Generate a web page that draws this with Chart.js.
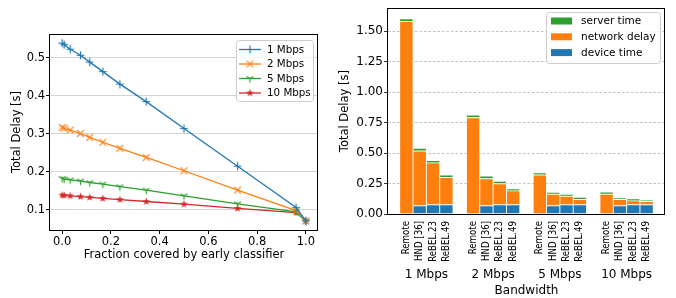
<!DOCTYPE html>
<html><head><meta charset="utf-8">
<script src="https://cdn.jsdelivr.net/npm/chart.js@4.4.1/dist/chart.umd.min.js"></script>
<style>
html,body{margin:0;padding:0;background:#fff;width:676px;height:298px;overflow:hidden}
#l{position:absolute;left:0;top:0}
#r{position:absolute;left:330px;top:0}
</style></head><body>
<canvas id="l" width="330" height="298"></canvas>
<canvas id="r" width="346" height="298"></canvas>
<script>
// ---------- Left chart data ----------
const fractions = [0, 0.008, 0.033, 0.075, 0.113, 0.167, 0.237, 0.345, 0.5, 0.72, 0.96, 1.0];
const delay1Mbps  = [0.539, 0.535, 0.523, 0.507, 0.489, 0.464, 0.431, 0.385, 0.314, 0.215, 0.106, 0.071];
const delay2Mbps  = [0.317, 0.315, 0.310, 0.301, 0.291, 0.278, 0.262, 0.238, 0.203, 0.152, 0.098, 0.071];
const delay5Mbps  = [0.183, 0.181, 0.179, 0.176, 0.172, 0.168, 0.161, 0.152, 0.137, 0.116, 0.095, 0.070];
const delay10Mbps = [0.139, 0.138, 0.137, 0.135, 0.133, 0.130, 0.127, 0.122, 0.115, 0.104, 0.093, 0.071];
const lineLabels = ['1 Mbps', '2 Mbps', '5 Mbps', '10 Mbps'];
const leftXTicks = [0, 0.2, 0.4, 0.6, 0.8, 1.0];
const leftYTicks = [0.1, 0.2, 0.3, 0.4, 0.5];

// ---------- Right chart data ----------
const methods = ['Remote', 'HND [36]', 'ReBEL.23', 'ReBEL.49'];
const bandwidths = ['1 Mbps', '2 Mbps', '5 Mbps', '10 Mbps'];
const deviceTime   = [0, 0.068, 0.076, 0.076,  0, 0.068, 0.076, 0.076,  0, 0.068, 0.076, 0.076,  0, 0.068, 0.076, 0.076];
const networkDelay = [1.581, 0.449, 0.344, 0.224,  0.791, 0.222, 0.173, 0.114,  0.320, 0.094, 0.070, 0.043,  0.162, 0.051, 0.032, 0.027];
const serverTime   = [0.022, 0.022, 0.019, 0.020,  0.021, 0.021, 0.019, 0.018,  0.018, 0.017, 0.016, 0.019,  0.019, 0.014, 0.017, 0.011];
const rightYTicks = [0, 0.25, 0.5, 0.75, 1.0, 1.25, 1.5];

const FONT = 'DejaVu Sans';
Chart.defaults.font.family = FONT;
Chart.defaults.color = '#000';
Chart.defaults.animation = false;

// pick a narrow face for the rotated bar labels if one is installed
function hasFont(name) {
  const g = document.createElement('canvas').getContext('2d');
  g.font = '20px monospace'; const a = g.measureText('ReBEL.49 HND [36]').width;
  g.font = '20px "' + name + '", monospace'; const b = g.measureText('ReBEL.49 HND [36]').width;
  return Math.abs(a - b) > 0.5;
}
let rotFont = {family: FONT, size: 8.8};
if (hasFont('Liberation Sans Narrow')) rotFont = {family: 'Liberation Sans Narrow', size: 10.6};
else if (hasFont('DejaVu Sans Condensed')) rotFont = {family: 'DejaVu Sans Condensed', size: 9.6};

const C = {blue:'#1f77b4', orange:'#ff7f0e', green:'#2ca02c', red:'#d62728'};

function marker(kind, color) {
  const c = document.createElement('canvas'); c.width = 11; c.height = 11;
  const g = c.getContext('2d'); g.strokeStyle = color; g.fillStyle = color; g.lineWidth = 1.2;
  const m = 5.5, r = 3.9;
  g.beginPath();
  if (kind === 'plus') { g.moveTo(m-r,m); g.lineTo(m+r,m); g.moveTo(m,m-r); g.lineTo(m,m+r); g.stroke(); }
  else if (kind === 'x') { const d = r*0.85; g.moveTo(m-d,m-d); g.lineTo(m+d,m+d); g.moveTo(m-d,m+d); g.lineTo(m+d,m-d); g.stroke(); }
  else if (kind === 'tri') { g.moveTo(m,m); g.lineTo(m,m+r); g.moveTo(m,m); g.lineTo(m-r*0.87,m-r*0.5); g.moveTo(m,m); g.lineTo(m+r*0.87,m-r*0.5); g.stroke(); }
  else if (kind === 'star') {
    for (let i = 0; i < 10; i++) {
      const a = -Math.PI/2 + i*Math.PI/5, rr = i%2 ? r*0.42 : r*1.05;
      const px = m + rr*Math.cos(a), py = m + rr*Math.sin(a);
      i ? g.lineTo(px,py) : g.moveTo(px,py);
    }
    g.closePath(); g.fill();
  }
  return c;
}
const markers = [marker('plus',C.blue), marker('x',C.orange), marker('tri',C.green), marker('star',C.red)];
const lineColors = [C.blue, C.orange, C.green, C.red];
const lineSeries = [delay1Mbps, delay2Mbps, delay5Mbps, delay10Mbps];

const framePlugin = {
  id: 'frame',
  afterDatasetsDraw(chart) {
    const {ctx, chartArea: a} = chart;
    ctx.save(); ctx.strokeStyle = '#000'; ctx.lineWidth = 1;
    ctx.strokeRect(Math.round(a.left) - 0.5, Math.round(a.top) + 0.5, Math.round(a.right - a.left), Math.round(a.bottom - a.top));
    ctx.restore();
  }
};

function legendBox(ctx, x, y, w, h) {
  ctx.save();
  ctx.beginPath();
  if (ctx.roundRect) ctx.roundRect(x, y, w, h, 3); else ctx.rect(x, y, w, h);
  ctx.fillStyle = 'rgba(255,255,255,0.8)'; ctx.fill();
  ctx.strokeStyle = '#cccccc'; ctx.lineWidth = 1; ctx.stroke();
  ctx.restore();
}

const leftLegend = {
  id: 'leftLegend',
  afterDraw(chart) {
    const ctx = chart.ctx;
    legendBox(ctx, 236.5, 40.5, 77, 61);
    chart.data.datasets.forEach((ds, i) => {
      const y = 49.5 + i * 14.5;
      ctx.save();
      ctx.strokeStyle = ds.borderColor; ctx.lineWidth = 1.3;
      ctx.beginPath(); ctx.moveTo(239, y); ctx.lineTo(261, y); ctx.stroke();
      const mk = ds.pointStyle; ctx.drawImage(mk, 250 - mk.width/2, y - mk.height/2);
      ctx.fillStyle = '#000'; ctx.font = '10.3px "' + FONT + '"'; ctx.textBaseline = 'middle';
      ctx.fillText(ds.label, 267, y + 0.5);
      ctx.restore();
    });
  }
};

new Chart(document.getElementById('l'), {
  type: 'line',
  data: {
    datasets: lineSeries.map((ser, i) => ({
      label: lineLabels[i],
      data: fractions.map((x, j) => ({x: x, y: ser[j]})),
      borderColor: lineColors[i], backgroundColor: lineColors[i],
      borderWidth: 1.3, pointStyle: markers[i], pointRadius: 4, tension: 0, fill: false
    }))
  },
  options: {
    responsive: false, animation: false,
    layout: {padding: {left: 0, top: 34, right: 12, bottom: 33}},
    plugins: {legend: {display: false}, tooltip: {enabled: false}},
    scales: {
      x: {
        type: 'linear', min: -0.05, max: 1.05,
        afterBuildTicks: s => { s.ticks = leftXTicks.map(v => ({value: v})); },
        afterFit: s => { s.height = 35; },
        ticks: {callback: v => Number(v).toFixed(1), font: {size: 11.5}, padding: 1, maxRotation: 0, autoSkip: false},
        grid: {drawOnChartArea: false, tickLength: 4, tickColor: '#000'},
        border: {display: false},
        title: {display: true, text: 'Fraction covered by early classifier', font: {size: 11.5}, padding: {top: 0, bottom: 3}}
      },
      y: {
        type: 'linear', min: 0.047, max: 0.563,
        afterBuildTicks: s => { s.ticks = leftYTicks.map(v => ({value: v})); },
        afterFit: s => { s.width = 50; },
        ticks: {callback: v => Number(v).toFixed(1), font: {size: 11.5}, padding: 1, autoSkip: false},
        grid: {color: '#d3d3d3', tickLength: 4, tickColor: '#000', lineWidth: 1},
        border: {display: false},
        title: {display: true, text: 'Total Delay [s]', font: {size: 11.5}, padding: {top: 10, bottom: 0}}
      }
    }
  },
  plugins: [framePlugin, leftLegend]
});

// ---------- Right chart ----------
const barPositions = [];
bandwidths.forEach((b, g) => methods.forEach((m, k) => barPositions.push(g * 5 + k)));
const groupCenters = bandwidths.map((b, g) => g * 5 + 1.5);
const barTickLabels = [];
bandwidths.forEach(() => methods.forEach(m => barTickLabels.push(m)));

const rightLegend = {
  id: 'rightLegend',
  afterDraw(chart) {
    const ctx = chart.ctx;
    legendBox(ctx, 216.5, 12.5, 114, 51);
    const order = [2, 1, 0];
    order.forEach((di, i) => {
      const ds = chart.data.datasets[di];
      const y = 21 + i * 15.8;
      ctx.save();
      ctx.fillStyle = ds.backgroundColor; ctx.fillRect(221, y - 3.5, 21, 7);
      ctx.fillStyle = '#000'; ctx.font = '10.5px "' + FONT + '"'; ctx.textBaseline = 'middle';
      ctx.fillText(ds.label, 251, y + 0.5);
      ctx.restore();
    });
  }
};

const barDs = (label, vals, color) => ({
  label: label,
  data: barPositions.map((x, i) => ({x: x, y: vals[i]})),
  backgroundColor: color, borderColor: 'rgba(255,255,255,0.45)', borderWidth: 0.8, borderSkipped: false,
  barPercentage: 1, categoryPercentage: 1, stack: 's'
});

new Chart(document.getElementById('r'), {
  type: 'bar',
  data: {
    datasets: [
      barDs('device time', deviceTime, C.blue),
      barDs('network delay', networkDelay, C.orange),
      barDs('server time', serverTime, C.green)
    ]
  },
  options: {
    responsive: false, animation: false,
    layout: {padding: {left: 0, top: 6, right: 11, bottom: 0}},
    plugins: {legend: {display: false}, tooltip: {enabled: false}},
    scales: {
      x: {
        type: 'linear', stacked: true, offset: false, min: -1.375, max: 19.375, weight: 0,
        afterBuildTicks: s => { s.ticks = barPositions.map(v => ({value: v})); },
        afterFit: s => { s.height = 49; },
        ticks: {callback: (v, i) => barTickLabels[i], font: rotFont, padding: 3, minRotation: 90, maxRotation: 90, autoSkip: false},
        grid: {drawOnChartArea: false, offset: false, tickLength: 4, tickColor: 'rgba(0,0,0,0)'},
        border: {display: false}
      },
      x2: {
        axis: 'x', type: 'linear', position: 'bottom', offset: false, min: -1.375, max: 19.375, weight: 1,
        afterBuildTicks: s => { s.ticks = groupCenters.map(v => ({value: v})); },
        afterFit: s => { s.height = 35; },
        ticks: {callback: (v, i) => bandwidths[i], font: {size: 12}, padding: 5, maxRotation: 0, autoSkip: false},
        grid: {display: false, drawTicks: false},
        border: {display: false},
        title: {display: true, text: 'Bandwidth', font: {size: 12}, padding: {top: 0, bottom: 0}}
      },
      y: {
        type: 'linear', stacked: true, min: 0, max: 1.69,
        afterBuildTicks: s => { s.ticks = rightYTicks.map(v => ({value: v})); },
        afterFit: s => { s.width = 58; },
        ticks: {callback: v => Number(v).toFixed(2), font: {size: 12}, padding: 1, autoSkip: false},
        grid: {color: '#b0b0b0', tickLength: 4, tickColor: '#000', lineWidth: 0.8, borderDash: [2.5, 2]},
        border: {display: false, dash: [2.5, 2]},
        title: {display: true, text: 'Total Delay [s]', font: {size: 11.5}, padding: {top: 8, bottom: 0}}
      }
    }
  },
  plugins: [framePlugin, rightLegend]
});
</script>
</body></html>
